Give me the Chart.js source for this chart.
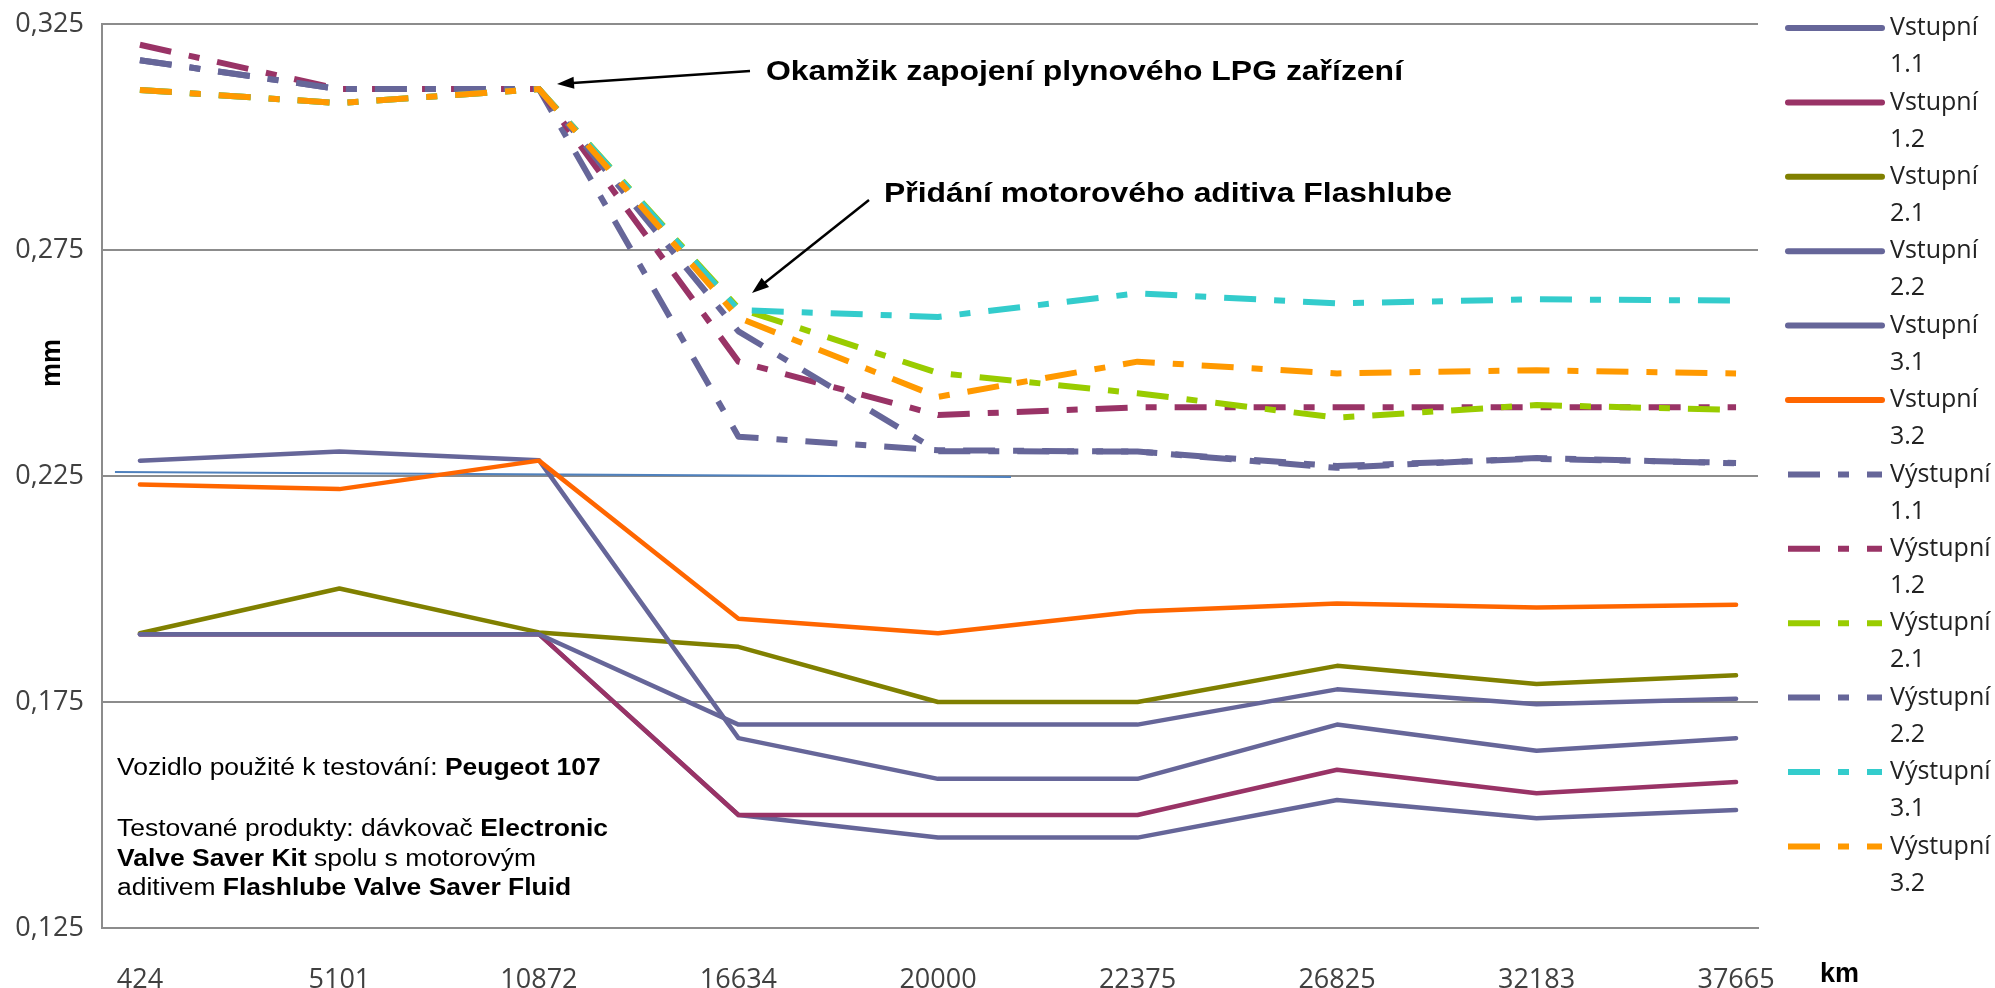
<!DOCTYPE html>
<html>
<head>
<meta charset="utf-8">
<script src="https://cdn.jsdelivr.net/npm/chart.js@4.4.1/dist/chart.umd.min.js"></script>
<style>
body { margin: 0; background: #fff; }
.chart-box { position: relative; width: 1995px; height: 988px; }
</style>
</head>
<body>
<div class="chart-box"><canvas id="wearChart"></canvas></div>
<script>
// km readings on the x axis
const kmLabels = ['424', '5101', '10872', '16634', '20000', '22375', '26825', '32183', '37665'];
const yTicks = [0.125, 0.175, 0.225, 0.275, 0.325];

// valve clearance, mm - inlet (Vstupní)
const vstupni11 = [0.190, 0.190, 0.190, 0.150, 0.145, 0.145, 0.1533, 0.1493, 0.1511];
const vstupni12 = [0.190, 0.190, 0.190, 0.150, 0.150, 0.150, 0.160, 0.1548, 0.1573];
const vstupni21 = [0.1902, 0.2001, 0.1904, 0.1872, 0.175, 0.175, 0.183, 0.179, 0.1809];
const vstupni22 = [0.190, 0.190, 0.190, 0.170, 0.170, 0.170, 0.1778, 0.1745, 0.1757];
const vstupni31 = [0.2284, 0.2304, 0.2285, 0.167, 0.158, 0.158, 0.170, 0.1642, 0.167];
const vstupni32 = [0.2231, 0.2221, 0.2284, 0.1934, 0.1902, 0.195, 0.1968, 0.1959, 0.1965];

// valve clearance, mm - exhaust (Výstupní)
const vystupni11 = [0.3170, 0.3106, 0.3106, 0.2337, 0.2307, 0.2304, 0.2268, 0.2290, 0.2278];
const vystupni12 = [0.3204, 0.3106, 0.3106, 0.2503, 0.2385, 0.2402, 0.2402, 0.2402, 0.2402];
const vystupni21 = [0.3104, 0.3075, 0.3106, 0.2621, 0.2478, 0.2433, 0.2379, 0.2407, 0.2396];
const vystupni22 = [0.3170, 0.3106, 0.3106, 0.2570, 0.2305, 0.2304, 0.2272, 0.2288, 0.2279];
const vystupni31 = [0.3104, 0.3075, 0.3106, 0.2617, 0.2602, 0.2654, 0.2632, 0.2641, 0.2638];
const vystupni32 = [0.3104, 0.3075, 0.3106, 0.2600, 0.2425, 0.2503, 0.2477, 0.2484, 0.2477];

// thin blue line that sits in the original picture (x as category index)
const refLineX = [-0.125, 4.366];
const refLineY = [0.2259, 0.2248];

const seriesNames = ['Vstupní 1.1', 'Vstupní 1.2', 'Vstupní 2.1', 'Vstupní 2.2', 'Vstupní 3.1', 'Vstupní 3.2',
    'Výstupní 1.1', 'Výstupní 1.2', 'Výstupní 2.1', 'Výstupní 2.2', 'Výstupní 3.1', 'Výstupní 3.2'];
const seriesValues = [vstupni11, vstupni12, vstupni21, vstupni22, vstupni31, vstupni32,
    vystupni11, vystupni12, vystupni21, vystupni22, vystupni31, vystupni32];
const seriesColors = ['#666699', '#993366', '#808000', '#666699', '#666699', '#FF6600',
    '#666699', '#993366', '#99CC00', '#666699', '#33CCCC', '#FF9900'];

const dashDot = [32, 18, 11, 18];

let datasets = seriesNames.map(function (name, i) {
    const dashed = i >= 6;
    return {
        label: name,
        data: seriesValues[i].map((v, k) => ({ x: k, y: v })),
        borderColor: seriesColors[i],
        borderWidth: dashed ? 6 : 4.5,
        borderDash: dashed ? dashDot : [],
        borderCapStyle: dashed ? 'butt' : 'round',
        borderJoinStyle: 'round',
        pointRadius: 0,
        tension: 0,
        fill: false,
        order: -i
    };
});
datasets.push({
    label: 'ref',
    data: refLineX.map((x, k) => ({ x: x, y: refLineY[k] })),
    borderColor: '#4F81BD',
    borderWidth: 2,
    pointRadius: 0,
    fill: false,
    order: 5,
    hideLegend: true
});

function drawArrow(ctx, x1, y1, x2, y2) {
    const a = Math.atan2(y2 - y1, x2 - x1);
    const c = Math.cos(a), s = Math.sin(a);
    ctx.beginPath();
    ctx.moveTo(x1, y1);
    ctx.lineTo(x2 - 12 * c, y2 - 12 * s);
    ctx.stroke();
    ctx.beginPath();
    ctx.moveTo(x2, y2);
    ctx.lineTo(x2 - 17 * c + 6 * s, y2 - 17 * s - 6 * c);
    ctx.lineTo(x2 - 17 * c - 6 * s, y2 - 17 * s + 6 * c);
    ctx.closePath();
    ctx.fill();
}

function fitText(ctx, text, x, y, width) {
    const w = ctx.measureText(text).width;
    ctx.save();
    ctx.translate(x, y);
    ctx.scale(width / w, 1);
    ctx.fillText(text, 0, 0);
    ctx.restore();
}

// side legend: two-line labels like the original
const sideLegend = {
    id: 'sideLegend',
    afterDraw(chart) {
        const ctx = chart.ctx;
        ctx.save();
        ctx.font = '25px "Open Sans"';
        ctx.textBaseline = 'middle';
        ctx.fillStyle = '#222222';
        chart.data.datasets.forEach(function (ds, i) {
            if (ds.hideLegend) return;
            const y = 28 + i * 74.4;
            ctx.beginPath();
            ctx.strokeStyle = ds.borderColor;
            ctx.lineWidth = 6;
            ctx.setLineDash(ds.borderDash);
            ctx.lineCap = ds.borderDash.length ? 'butt' : 'round';
            ctx.moveTo(1788, y);
            ctx.lineTo(1882, y);
            ctx.stroke();
            ctx.setLineDash([]);
            const parts = ds.label.split(' ');
            ctx.fillText(parts[0], 1890, y);
            ctx.fillText(parts[1], 1890, y + 37);
        });
        ctx.restore();
    }
};

// notes, arrows and axis titles
const notes = {
    id: 'notes',
    afterDraw(chart) {
        const ctx = chart.ctx;
        ctx.save();
        ctx.fillStyle = '#000';
        ctx.strokeStyle = '#000';
        ctx.lineWidth = 2.5;
        ctx.textBaseline = 'alphabetic';

        ctx.font = 'bold 28px "Liberation Sans"';
        fitText(ctx, 'Okamžik zapojení plynového LPG zařízení', 766, 80, 637);
        fitText(ctx, 'Přidání motorového aditiva Flashlube', 884, 202, 568);

        drawArrow(ctx, 750, 71, 557, 84);
        drawArrow(ctx, 869, 200, 752, 293);

        // axis titles
        ctx.font = 'bold 27px "Liberation Sans"';
        ctx.fillText('km', 1820, 982);
        ctx.save();
        ctx.translate(60, 363);
        ctx.rotate(-Math.PI / 2);
        ctx.textAlign = 'center';
        ctx.fillText('mm', 0, 0);
        ctx.restore();

        // test description (the original text is a little stretched sideways)
        const lines = [
            [['Vozidlo použité k testování: ', false], ['Peugeot 107', true]],
            [['Testované produkty: dávkovač ', false], ['Electronic', true]],
            [['Valve Saver Kit', true], [' spolu s motorovým', false]],
            [['aditivem ', false], ['Flashlube Valve Saver Fluid', true]]
        ];
        const baselines = [775, 836, 866, 895];
        ctx.save();
        ctx.translate(117, 0);
        ctx.scale(1.15, 1);
        lines.forEach(function (runs, li) {
            let x = 0;
            runs.forEach(function (run) {
                ctx.font = (run[1] ? 'bold ' : '') + '23px "Liberation Sans"';
                ctx.fillText(run[0], x, baselines[li]);
                x += ctx.measureText(run[0]).width;
            });
        });
        ctx.restore();
        ctx.restore();
    }
};

let ctx = document.getElementById('wearChart').getContext('2d');
let wearChart = new Chart(ctx, {
    type: 'line',
    data: { datasets: datasets },
    options: {
        responsive: true,
        maintainAspectRatio: false,
        animation: false,
        layout: {
            padding: { top: 24, right: 237, left: 0, bottom: 0 }
        },
        plugins: {
            legend: { display: false },
            tooltip: { enabled: false }
        },
        scales: {
            x: {
                type: 'linear',
                min: -0.19,
                max: 8.11,
                afterBuildTicks: function (axis) {
                    axis.ticks = kmLabels.map((l, i) => ({ value: i }));
                },
                afterFit: function (axis) {
                    axis.height = 60;
                },
                grid: { display: false },
                border: { display: true, color: '#8c8c8c', width: 2 },
                ticks: {
                    padding: 28,
                    color: '#404040',
                    font: { family: '"Open Sans"', size: 27 },
                    maxRotation: 0,
                    callback: function (value) {
                        return kmLabels[value];
                    }
                }
            },
            y: {
                min: 0.125,
                max: 0.325,
                afterBuildTicks: function (axis) {
                    axis.ticks = yTicks.map(v => ({ value: v }));
                },
                afterFit: function (axis) {
                    axis.width = 102;
                    axis.paddingTop = 0;
                    axis.paddingBottom = 0;
                },
                grid: { color: '#8c8c8c', lineWidth: 2, drawTicks: false },
                border: { display: true, color: '#8c8c8c', width: 2 },
                ticks: {
                    padding: 18,
                    color: '#404040',
                    font: { family: '"Open Sans"', size: 27 },
                    callback: function (value) {
                        return value.toFixed(3).replace('.', ',');
                    }
                }
            }
        }
    },
    plugins: [sideLegend, notes]
});
</script>
</body>
</html>
